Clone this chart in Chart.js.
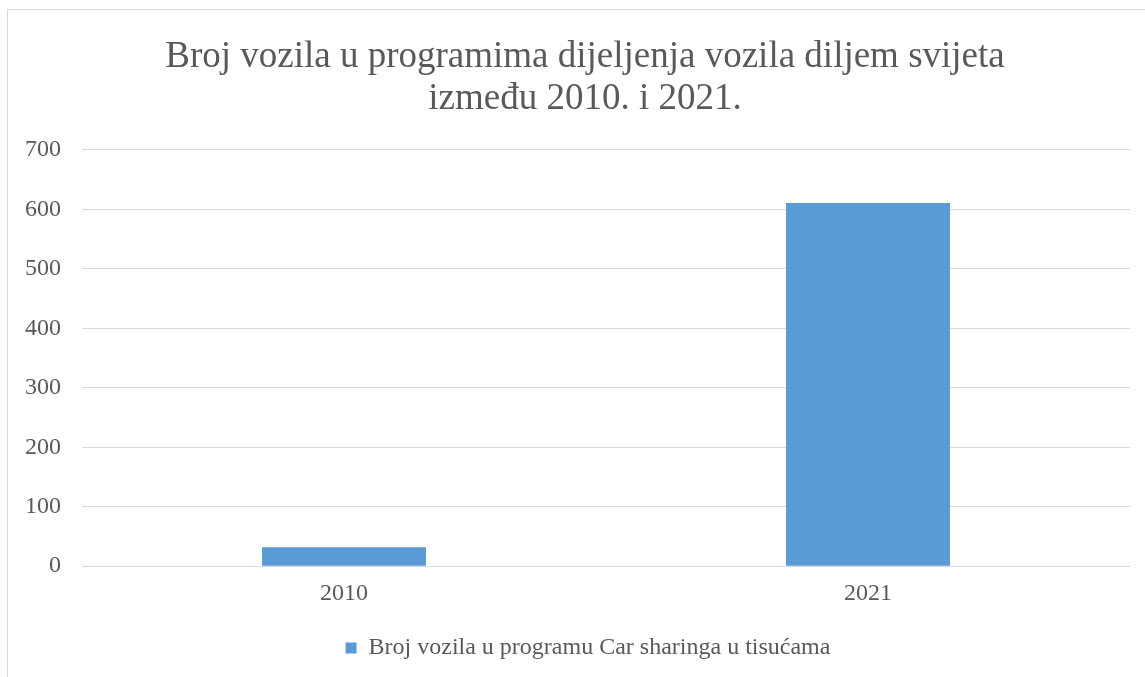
<!DOCTYPE html>
<html>
<head>
<meta charset="utf-8">
<script src="https://cdn.jsdelivr.net/npm/chart.js@4"></script>
<style>
  html, body { margin: 0; padding: 0; background: #fff; overflow: hidden; }
  #frame { position: absolute; left: 7px; top: 9px; width: 1200px; height: 700px;
           border-left: 1px solid #d9d9d9; border-top: 1px solid #d9d9d9; }
  #wrap { position: absolute; left: 0; top: 0; width: 1145px; height: 677px; }
</style>
</head>
<body>
<div id="frame"></div>
<div id="wrap"><canvas id="vehicleChart"></canvas></div>
<script>
const titleLines = ['Broj vozila u programima dijeljenja vozila diljem svijeta', 'između 2010. i 2021.'];
const years = ['2010', '2021'];
const vehicles = [32, 611];
const seriesLabel = 'Broj vozila u programu Car sharinga u tisućama';
const yMax = 700;
const yStep = 100;

document.addEventListener('DOMContentLoaded', function() {
    const serif = "'Liberation Serif', 'Times New Roman', serif";
    const grey = '#595959';
    const ctx = document.getElementById('vehicleChart').getContext('2d');

    // title and legend sit a little right of the canvas centre in the original
    const nudgeBoxes = {
        id: 'nudgeBoxes',
        afterLayout(chart) {
            if (chart.titleBlock) chart.titleBlock.left += 36;
            if (chart.legend) chart.legend.left += 42;
        }
    };

    new Chart(ctx, {
        type: 'bar',
        data: {
            labels: years,
            datasets: [{
                label: seriesLabel,
                data: vehicles,
                backgroundColor: '#5b9bd5',
                borderWidth: 0,
                barPercentage: 0.313,
                categoryPercentage: 1
            }]
        },
        options: {
            responsive: true,
            maintainAspectRatio: false,
            animation: false,
            layout: { padding: { left: 4, right: 15, top: 0, bottom: 7 } },
            plugins: {
                title: {
                    display: true,
                    text: titleLines,
                    color: grey,
                    font: { family: serif, size: 37, weight: 'normal', lineHeight: 1.135 },
                    padding: { top: 36, bottom: 30 }
                },
                legend: {
                    position: 'bottom',
                    labels: {
                        color: grey,
                        boxWidth: 11,
                        boxHeight: 11,
                        font: { family: serif, size: 24 },
                        padding: 14
                    }
                },
                tooltip: { enabled: false }
            },
            scales: {
                x: {
                    grid: { display: false },
                    border: { display: false },
                    ticks: { color: grey, font: { family: serif, size: 24 }, padding: 5 },
                    afterFit: function(scale) { scale.height += 9; }
                },
                y: {
                    min: 0,
                    max: yMax,
                    border: { display: false },
                    grid: { color: '#d9d9d9', lineWidth: 1, drawTicks: false },
                    ticks: { stepSize: yStep, color: grey, font: { family: serif, size: 24 }, padding: 21 }
                }
            }
        },
        plugins: [nudgeBoxes]
    });
});
</script>
</body>
</html>
